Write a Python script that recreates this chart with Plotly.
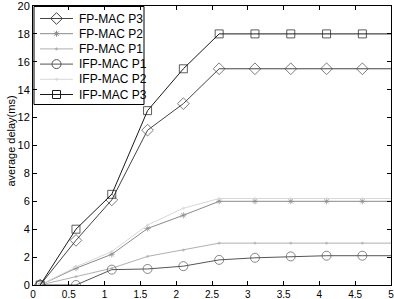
import plotly.graph_objects as go

x = [0.1, 0.6, 1.1, 1.6, 2.1, 2.6, 3.1, 3.6, 4.1, 4.6, 5.0]
fp_p3 = [0, 3.2, 6.1, 11.1, 13.0, 15.5, 15.5, 15.5, 15.5, 15.5, 15.5]
fp_p2 = [0, 1.2, 2.2, 4.05, 5.0, 6.0, 6.0, 6.0, 6.0, 6.0, 6.0]
fp_p1 = [0, 0.6, 1.2, 2.05, 2.5, 3.0, 3.0, 3.0, 3.0, 3.0, 3.0]
ifp_p1 = [0, 0, 1.1, 1.15, 1.35, 1.8, 1.95, 2.05, 2.1, 2.1, 2.1]
ifp_p2 = [0, 1.3, 2.4, 4.3, 5.5, 6.2, 6.2, 6.2, 6.2, 6.2, 6.2]
ifp_p3 = [0, 4.0, 6.5, 12.5, 15.5, 18.0, 18.0, 18.0, 18.0, 18.0, 18.0]

names = ["FP-MAC P3", "FP-MAC P2", "FP-MAC P1", "IFP-MAC P1", "IFP-MAC P2", "IFP-MAC P3"]
series = [fp_p3, fp_p2, fp_p1, ifp_p1, ifp_p2, ifp_p3]
colors = ["#444444", "#8a8a8a", "#b0b0b0", "#555555", "#d8d8d8", "#1a1a1a"]
symbols = ["diamond-open", "asterisk-open", "circle", "circle-open", "circle", "square-open"]
sizes = [9, 5, 2, 9, 2, 8]

xticks = [0, 0.5, 1, 1.5, 2, 2.5, 3, 3.5, 4, 4.5, 5]
xticklabels = ["0", "0.5", "1", "1.5", "2", "2.5", "3", "3.5", "4", "4.5", "5"]
yticks = [0, 2, 4, 6, 8, 10, 12, 14, 16, 18, 20]
yticklabels = ["0", "2", "4", "6", "8", "10", "12", "14", "16", "18", "20"]

W, H = 394, 299
ML, MR, MT, MB = 33, 3, 6, 14
PW, PH = W - ML - MR, H - MT - MB

fig = go.Figure()
for n, s, c, sym, sz in zip(names, series, colors, symbols, sizes):
    msz = [sz] * (len(x) - 1) + [0]
    fig.add_trace(go.Scatter(
        x=x, y=s, name=n, mode="lines+markers", showlegend=False,
        line=dict(color=c, width=1),
        marker=dict(symbol=sym, size=msz, color=c, line=dict(color=c, width=1)),
    ))

# legend box drawn in an overlay pixel axis (x2/y2), origin at plot top-left
bx0, bx1, by0, by1 = 34 - ML, 144 - ML, 0.5, 104.5 - MT
fig.add_trace(go.Scatter(
    x=[bx0, bx1, bx1, bx0, bx0], y=[by0, by0, by1, by1, by0],
    xaxis="x2", yaxis="y2", mode="lines", fill="toself", fillcolor="white",
    line=dict(color="black", width=1), showlegend=False, hoverinfo="skip"))

annotations = []
for i, (n, c, sym, sz) in enumerate(zip(names, colors, symbols, sizes)):
    cy = 18.5 + 15.2 * i - MT
    lx0, lx1 = 40 - ML, 73 - ML
    fig.add_trace(go.Scatter(
        x=[lx0, lx1], y=[cy, cy], xaxis="x2", yaxis="y2", mode="lines",
        line=dict(color=c, width=1), showlegend=False, hoverinfo="skip"))
    fig.add_trace(go.Scatter(
        x=[(lx0 + lx1) / 2], y=[cy], xaxis="x2", yaxis="y2", mode="markers",
        marker=dict(symbol=sym, size=sz, color=c, line=dict(color=c, width=1)),
        showlegend=False, hoverinfo="skip"))
    annotations.append(dict(
        x=77 - ML, y=cy, xref="x2", yref="y2", text=n, showarrow=False,
        xanchor="left", yanchor="middle", font=dict(size=12, color="black")))

annotations.append(dict(
    x=0, y=0.5, xref="paper", yref="paper", text="average delay(ms)",
    textangle=-90, showarrow=False, xanchor="center", yanchor="middle",
    xshift=-23, yshift=4, font=dict(size=11, color="black")))

fig.update_layout(
    width=W, height=H,
    margin=dict(l=ML, r=MR, t=MT, b=MB),
    paper_bgcolor="white", plot_bgcolor="white",
    font=dict(family="Liberation Sans, Arial", size=11, color="black"),
    showlegend=False,
    annotations=annotations,
    xaxis=dict(range=[0, 5], tickmode="array", tickvals=xticks, ticktext=xticklabels,
               ticks="inside", ticklen=4, tickcolor="black",
               showline=True, linecolor="black", linewidth=1, mirror="ticks",
               showgrid=False, zeroline=False, tickfont=dict(size=10),
               automargin=False, ticklabeloverflow="allow"),
    yaxis=dict(range=[0, 20], tickmode="array", tickvals=yticks, ticktext=yticklabels,
               ticks="inside", ticklen=4, tickcolor="black",
               showline=True, linecolor="black", linewidth=1, mirror="ticks",
               showgrid=False, zeroline=False, tickfont=dict(size=11),
               automargin=False, ticklabeloverflow="allow"),
    xaxis2=dict(overlaying="x", range=[0, PW], visible=False, fixedrange=True),
    yaxis2=dict(overlaying="y", range=[PH, 0], visible=False, fixedrange=True),
)

fig.write_html("out.html", config={"displayModeBar": False},
               post_script="document.body.style.margin='0';")
